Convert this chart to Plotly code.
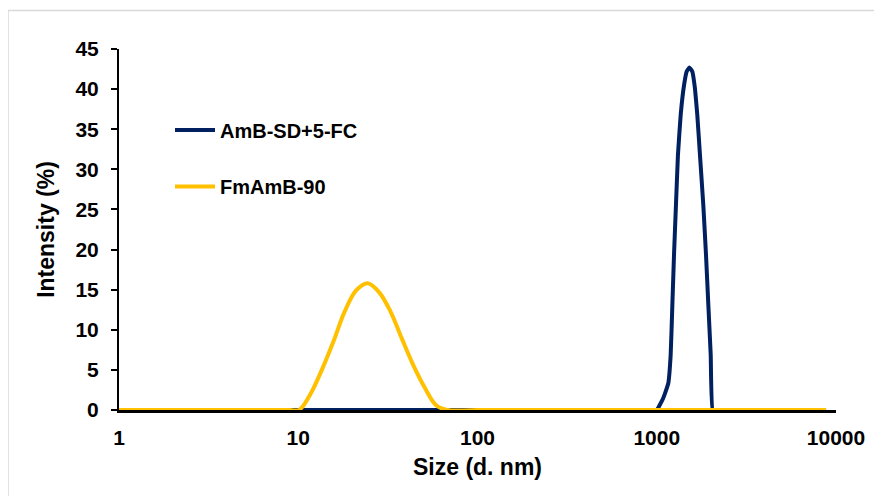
import plotly.graph_objects as go

# Data
amb_size = [1, 100, 900, 1000, 1088, 1159, 1196, 1222, 1248, 1280, 1313, 1360, 1420,
            1469, 1520, 1579, 1633, 1683, 1742, 1818, 1883, 1940, 2000, 2053,
            2300, 8800]
amb_int = [0, 0, 0, 0, 1.5, 3.3, 6.9, 13.1, 19.3, 25.6, 31.8, 36.8, 40.5,
           42.2, 42.7, 42.2, 40.1, 36.8, 31.8, 25.6, 19.3, 13.1, 6.9, 0,
           0, 0]

fm_size = [1, 5, 9, 10.1, 11.7, 13.54, 15.69, 18.17, 21.04, 24.36, 28.21, 32.67,
           37.84, 43.82, 50.75, 58.77, 68.06, 100, 1000, 8800]
fm_int = [0, 0, 0, 0, 2.0, 5.0, 8.5, 12.3, 14.9, 15.8, 14.7, 12.3,
          8.9, 5.6, 2.8, 0.6, 0, 0, 0, 0]

x_ticks = [1, 10, 100, 1000, 10000]
x_ticklabels = ["1", "10", "100", "1000", "10000"]
y_ticks = [0, 5, 10, 15, 20, 25, 30, 35, 40, 45]

BLUE = "#002060"
GOLD = "#FFC000"
FONT = "Liberation Sans, Arial, sans-serif"

fig = go.Figure()
fig.add_trace(go.Scatter(
    x=amb_size, y=amb_int, mode="lines", name="AmB-SD+5-FC",
    line=dict(color=BLUE, width=4, shape="spline", smoothing=0.3),
    cliponaxis=False, legend="legend", showlegend=True))
fig.add_trace(go.Scatter(
    x=fm_size, y=fm_int, mode="lines", name="FmAmB-90",
    line=dict(color=GOLD, width=4, shape="spline", smoothing=1.0),
    cliponaxis=False, legend="legend2", showlegend=True))

OFF = 8  # page body margin
L, R, T, B = 119 - OFF, 46, 49 - OFF, 86
W, H = 882 - OFF, 496 - OFF
pw, ph = W - L - R, H - T - B

def px2x(px):
    return (px - OFF - L) / pw

def py2y(py):
    return (H - B - (py - OFF)) / ph

legfont = dict(size=20, family=FONT, color="black", weight="bold")
tickfont = dict(size=21, family=FONT, color="black", weight="bold")
titlefont = dict(size=23, family=FONT, color="black", weight="bold")

fig.update_layout(
    width=W, height=H, showlegend=True,
    margin=dict(l=L, r=R, t=T, b=B, autoexpand=False),
    paper_bgcolor="white", plot_bgcolor="white",
    font=dict(family=FONT, color="black"),
    legend=dict(x=px2x(170), y=py2y(130), xanchor="left", yanchor="middle",
                font=legfont, bgcolor="rgba(0,0,0,0)", itemwidth=40),
    legend2=dict(x=px2x(170), y=py2y(186.5), xanchor="left", yanchor="middle",
                 font=legfont, bgcolor="rgba(0,0,0,0)", itemwidth=40),
    xaxis=dict(
        type="log", range=[0, 4], tickvals=x_ticks, ticktext=x_ticklabels,
        showgrid=False, zeroline=False, showline=True, linecolor="black",
        linewidth=3, ticks="", layer="below traces",
        tickfont=tickfont, ticklabelstandoff=7,
        title=dict(text="Size (d. nm)", font=titlefont, standoff=11),
    ),
    yaxis=dict(
        range=[0, 45], tickvals=y_ticks, showgrid=False, zeroline=False,
        showline=True, linecolor="black", linewidth=2, ticks="outside",
        ticklen=6, tickwidth=2, tickcolor="black", layer="below traces",
        tickfont=tickfont, ticklabelstandoff=8,
        title=dict(text="Intensity (%)", font=titlefont, standoff=14),
    ),
    shapes=[dict(type="rect", xref="paper", yref="paper",
                 x0=px2x(8), x1=px2x(895), y0=py2y(510), y1=py2y(10.5),
                 line=dict(color="#D9D9D9", width=1.5), layer="below")],
)

fig.write_html("out.html")
